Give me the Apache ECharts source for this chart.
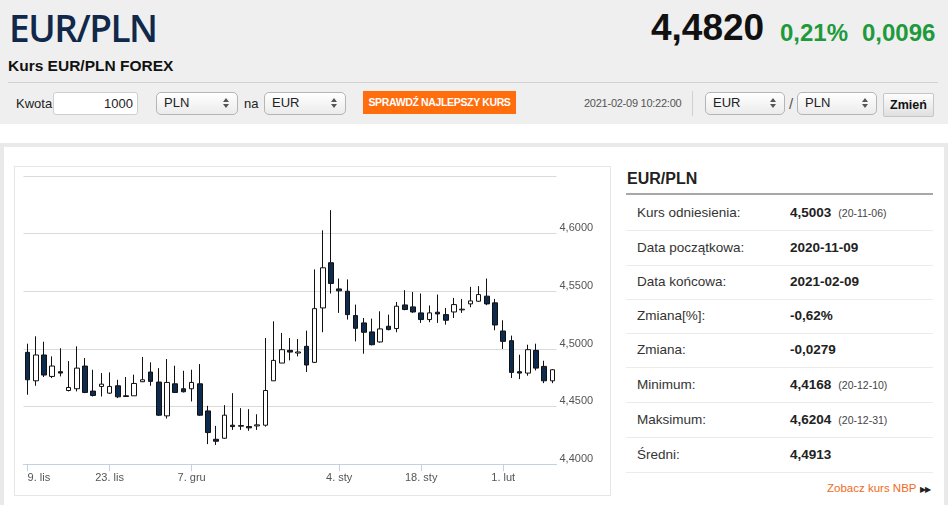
<!DOCTYPE html>
<html>
<head>
<meta charset="utf-8">
<script src="https://cdn.jsdelivr.net/npm/echarts@6/dist/echarts.min.js"></script>
<style>
  html,body{margin:0;padding:0;width:948px;height:505px;overflow:hidden;background:#fff;font-family:"Liberation Sans",Arial,sans-serif;color:#222;}
  .abs{position:absolute;}
  .topbg{left:0;top:0;width:948px;height:124px;background:#efefef;}
  .title{left:9px;top:2px;font-family:"Open Sans",sans-serif;font-weight:600;font-size:37px;color:#10284a;letter-spacing:-1.5px;}
  .sub{left:8px;top:57px;font-weight:bold;font-size:15.5px;color:#111;}
  .sep{left:8px;top:82px;width:930px;height:1px;background:#d2d2d2;}
  .price{left:651px;top:7px;font-weight:bold;font-size:37px;color:#111;}
  .chg{top:19px;font-weight:bold;font-size:24px;color:#1e9a3c;}
  .lbl{font-size:13px;color:#222;}
  .box{background:#fff;border:1px solid #cfcfcf;border-radius:3px;box-sizing:border-box;}
  .sel{border:1px solid #b5b5b5;border-radius:5px;background:linear-gradient(#ffffff,#ebebeb);box-sizing:border-box;font-size:13px;color:#222;}
  .sel span{position:absolute;left:7px;top:2px;}
  .arr{position:absolute;right:8px;width:0;height:0;border-left:3px solid transparent;border-right:3px solid transparent;}
  .up{top:5px;border-bottom:4px solid #555;}
  .dn{top:11px;border-top:4px solid #555;}
  .btn{left:363px;top:91px;width:153px;height:23px;background:#ff6d0d;color:#fff;font-weight:bold;font-size:10.5px;line-height:23px;text-align:center;letter-spacing:-0.35px;}
  .stamp{left:584px;top:97px;font-size:11px;color:#555;letter-spacing:-0.25px;}
  .vsep{left:692px;top:91px;width:1px;height:25px;background:#d0d0d0;}
  .zm{left:883px;top:93px;width:51px;height:24px;box-sizing:border-box;border:1px solid #c6c6c6;border-radius:2px;background:linear-gradient(#fdfdfd,#e0e0e0);font-weight:bold;font-size:12.5px;line-height:22px;text-align:center;color:#111;}
  .panel{left:0;top:143px;width:948px;height:380px;box-sizing:border-box;border:4px solid #e9e9e9;border-bottom:none;}
  .chartbox{left:14px;top:166px;width:597px;height:330px;box-sizing:border-box;border:1px solid #e6e6e6;}
  #chart{position:absolute;left:15px;top:167px;width:595px;height:328px;}
  .th{left:627px;top:170px;font-weight:bold;font-size:16px;color:#222;}
  .thl{left:626px;top:193px;width:307px;height:2px;background:#a8a8a8;}
  .row{left:626px;width:307px;height:34px;border-bottom:1px solid #ececec;}
  .rl{position:absolute;left:11px;top:9px;font-size:13.5px;color:#333;}
  .rv{position:absolute;left:164px;top:9px;font-size:13.5px;font-weight:bold;color:#222;}
  .rd{font-size:10.5px;font-weight:normal;color:#444;margin-left:7px;}
  .nbp{left:827px;top:482px;font-size:11.5px;color:#f26a1b;}
  .nbp i{font-style:normal;color:#222;font-size:8px;margin-left:4px;letter-spacing:-1px;}
</style>
</head>
<body>
<div class="abs topbg"></div>
<div class="abs title">EUR/PLN</div>
<div class="abs sub">Kurs EUR/PLN FOREX</div>
<div class="abs price">4,4820</div>
<div class="abs chg" style="left:780px;">0,21%</div>
<div class="abs chg" style="left:862px;">0,0096</div>
<div class="abs sep"></div>

<div class="abs lbl" style="left:16px;top:96px;">Kwota</div>
<div class="abs box" style="left:53px;top:92px;width:85px;height:23px;"><span style="position:absolute;right:4px;top:3px;font-size:13px;">1000</span></div>
<div class="abs sel" style="left:156px;top:92px;width:82px;height:23px;"><span>PLN</span><i class="arr up"></i><i class="arr dn"></i></div>
<div class="abs lbl" style="left:244px;top:96px;">na</div>
<div class="abs sel" style="left:264px;top:92px;width:82px;height:23px;"><span>EUR</span><i class="arr up"></i><i class="arr dn"></i></div>
<div class="abs btn">SPRAWDŹ NAJLEPSZY KURS</div>
<div class="abs stamp">2021-02-09 10:22:00</div>
<div class="abs vsep"></div>
<div class="abs sel" style="left:705px;top:92px;width:80px;height:23px;"><span>EUR</span><i class="arr up"></i><i class="arr dn"></i></div>
<div class="abs lbl" style="left:789px;top:95px;font-size:15px;color:#555;">/</div>
<div class="abs sel" style="left:797px;top:92px;width:80px;height:23px;"><span>PLN</span><i class="arr up"></i><i class="arr dn"></i></div>
<div class="abs zm">Zmień</div>

<div class="abs panel"></div>
<div class="abs chartbox"></div>
<div id="chart"></div>

<div class="abs th">EUR/PLN</div>
<div class="abs thl"></div>
<div class="abs row" style="top:196px;"><span class="rl">Kurs odniesienia:</span><span class="rv">4,5003<span class="rd">(20-11-06)</span></span></div>
<div class="abs row" style="top:231px;"><span class="rl">Data początkowa:</span><span class="rv">2020-11-09</span></div>
<div class="abs row" style="top:265px;"><span class="rl">Data końcowa:</span><span class="rv">2021-02-09</span></div>
<div class="abs row" style="top:299px;"><span class="rl">Zmiana[%]:</span><span class="rv">-0,62%</span></div>
<div class="abs row" style="top:333px;"><span class="rl">Zmiana:</span><span class="rv">-0,0279</span></div>
<div class="abs row" style="top:368px;"><span class="rl">Minimum:</span><span class="rv">4,4168<span class="rd">(20-12-10)</span></span></div>
<div class="abs row" style="top:403px;"><span class="rl">Maksimum:</span><span class="rv">4,6204<span class="rd">(20-12-31)</span></span></div>
<div class="abs row" style="top:438px;"><span class="rl">Średni:</span><span class="rv">4,4913</span></div>
<div class="abs nbp">Zobacz kurs NBP<i>▶▶</i></div>

<script>
const dates = [
  '2020-11-09','2020-11-10','2020-11-11','2020-11-12','2020-11-13','2020-11-16','2020-11-17','2020-11-18','2020-11-19','2020-11-20',
  '2020-11-23','2020-11-24','2020-11-25','2020-11-26','2020-11-27','2020-11-30','2020-12-01','2020-12-02','2020-12-03','2020-12-04',
  '2020-12-07','2020-12-08','2020-12-09','2020-12-10','2020-12-11','2020-12-14','2020-12-15','2020-12-16','2020-12-17','2020-12-18',
  '2020-12-21','2020-12-22','2020-12-23','2020-12-24','2020-12-28','2020-12-29','2020-12-30','2020-12-31','2021-01-04','2021-01-05',
  '2021-01-06','2021-01-07','2021-01-08','2021-01-11','2021-01-12','2021-01-13','2021-01-14','2021-01-15','2021-01-18','2021-01-19',
  '2021-01-20','2021-01-21','2021-01-22','2021-01-25','2021-01-26','2021-01-27','2021-01-28','2021-01-29','2021-02-01','2021-02-02',
  '2021-02-03','2021-02-04','2021-02-05','2021-02-08','2021-02-09'
];
const opens = [
  4.4971,4.4724,4.4948,4.4762,4.4803,4.4640,4.4655,4.4852,4.4635,4.4675,
  4.4617,4.4681,4.4594,4.4594,4.4716,4.4800,4.4713,4.4420,4.4698,4.4655,
  4.4655,4.4698,4.4463,4.4217,4.4226,4.4339,4.4330,4.4327,4.4333,4.4339,
  4.4724,4.4878,4.4988,4.4965,4.5023,4.4884,4.5356,4.5748,4.5521,4.5501,
  4.5290,4.5226,4.5148,4.5061,4.5197,4.5177,4.5382,4.5365,4.5313,4.5255,
  4.5319,4.5298,4.5321,4.5339,4.5391,4.5414,4.5458,4.5400,4.5156,4.5072,
  4.4803,4.4791,4.4988,4.4849,4.4724
];
const closes = [
  4.4733,4.4948,4.4774,4.4852,4.4791,4.4666,4.4834,4.4623,4.4597,4.4695,
  4.4675,4.4585,4.4588,4.4701,4.4733,4.4719,4.4426,4.4710,4.4623,4.4629,
  4.4710,4.4426,4.4275,4.4200,4.4426,4.4327,4.4336,4.4316,4.4342,4.4640,
  4.4901,4.4994,4.4973,4.4974,4.4861,4.5350,4.5704,4.5568,4.5504,4.5298,
  4.5179,4.5145,4.5037,4.5174,4.5168,4.5371,4.5342,4.5321,4.5255,4.5313,
  4.5304,4.5249,4.5385,4.5345,4.5417,4.5472,4.5391,4.5208,4.5066,4.4797,
  4.4791,4.4994,4.4834,4.4724,4.4820
];
const lows = [
  4.4603,4.4681,4.4757,4.4748,4.4762,4.4632,4.4632,4.4617,4.4588,4.4588,
  4.4611,4.4574,4.4588,4.4594,4.4713,4.4681,4.4420,4.4397,4.4623,4.4623,
  4.4545,4.4420,4.4175,4.4168,4.4222,4.4298,4.4298,4.4290,4.4298,4.4327,
  4.4724,4.4878,4.4901,4.4936,4.4800,4.4878,4.5145,4.5481,4.5313,4.5255,
  4.5066,4.4959,4.5031,4.5055,4.5162,4.5145,4.5336,4.5313,4.5226,4.5232,
  4.5226,4.5211,4.5269,4.5313,4.5362,4.5409,4.5380,4.5162,4.5000,4.4748,
  4.4739,4.4768,4.4814,4.4704,4.4704
];
const highs = [
  4.5046,4.5110,4.5063,4.4936,4.5006,4.4895,4.5023,4.4921,4.4820,4.4791,
  4.4797,4.4733,4.4757,4.4777,4.4930,4.4884,4.4834,4.4913,4.4855,4.4811,
  4.4820,4.4869,4.4507,4.4333,4.4513,4.4617,4.4487,4.4478,4.4434,4.5095,
  4.5240,4.5139,4.5095,4.5087,4.5159,4.5690,4.6029,4.6204,4.5611,4.5603,
  4.5385,4.5269,4.5263,4.5327,4.5298,4.5408,4.5510,4.5495,4.5481,4.5377,
  4.5472,4.5356,4.5443,4.5434,4.5539,4.5545,4.5611,4.5434,4.5249,4.5116,
  4.4950,4.5037,4.5046,4.4898,4.4826
];
const tickDates = ['2020-11-09','2020-11-23','2020-12-07','2021-01-04','2021-01-18','2021-02-01'];
const tickLabels = ['9. lis','23. lis','7. gru','4. sty','18. sty','1. lut'];
const yMin = 4.40, yMax = 4.65, yStep = 0.05;

const candles = dates.map((d, i) => [opens[i], closes[i], lows[i], highs[i]]);
const isTick = (idx, val) => tickDates.indexOf(val) >= 0;

const chart = echarts.init(document.getElementById('chart'), null, {renderer: 'canvas'});
chart.setOption({
  animation: false,
  grid: {left: 8.5, top: 9, width: 533, height: 288.3, containLabel: false},
  xAxis: {
    type: 'category',
    data: dates,
    boundaryGap: true,
    axisLine: {show: true, lineStyle: {color: '#c3d1e2', width: 1}},
    axisTick: {show: true, alignWithLabel: true, interval: isTick, length: 7, lineStyle: {color: '#c3d1e2'}},
    axisLabel: {
      interval: isTick,
      formatter: v => tickLabels[tickDates.indexOf(v)] || '',
      alignMinLabel: 'left',
      color: '#555', fontSize: 11, margin: 8,
      fontFamily: '"Liberation Sans", Arial, sans-serif'
    },
    splitLine: {show: false}
  },
  yAxis: {
    type: 'value',
    position: 'right',
    min: yMin, max: yMax, interval: yStep,
    scale: true,
    axisLine: {show: false},
    axisTick: {show: false},
    splitLine: {show: true, lineStyle: {color: '#dadada', width: 1}},
    axisLabel: {
      formatter: v => v > yMax - 0.001 ? '' : v.toFixed(4).replace('.', ','),
      verticalAlign: 'bottom',
      margin: 3,
      color: '#555', fontSize: 11,
      fontFamily: '"Liberation Sans", Arial, sans-serif'
    }
  },
  series: [{
    type: 'candlestick',
    data: candles,
    barWidth: 5,
    itemStyle: {
      color: '#ffffff',
      color0: '#0d2a4f',
      borderColor: '#111111',
      borderColor0: '#111111',
      borderWidth: 1
    }
  }]
});
</script>
</body>
</html>
